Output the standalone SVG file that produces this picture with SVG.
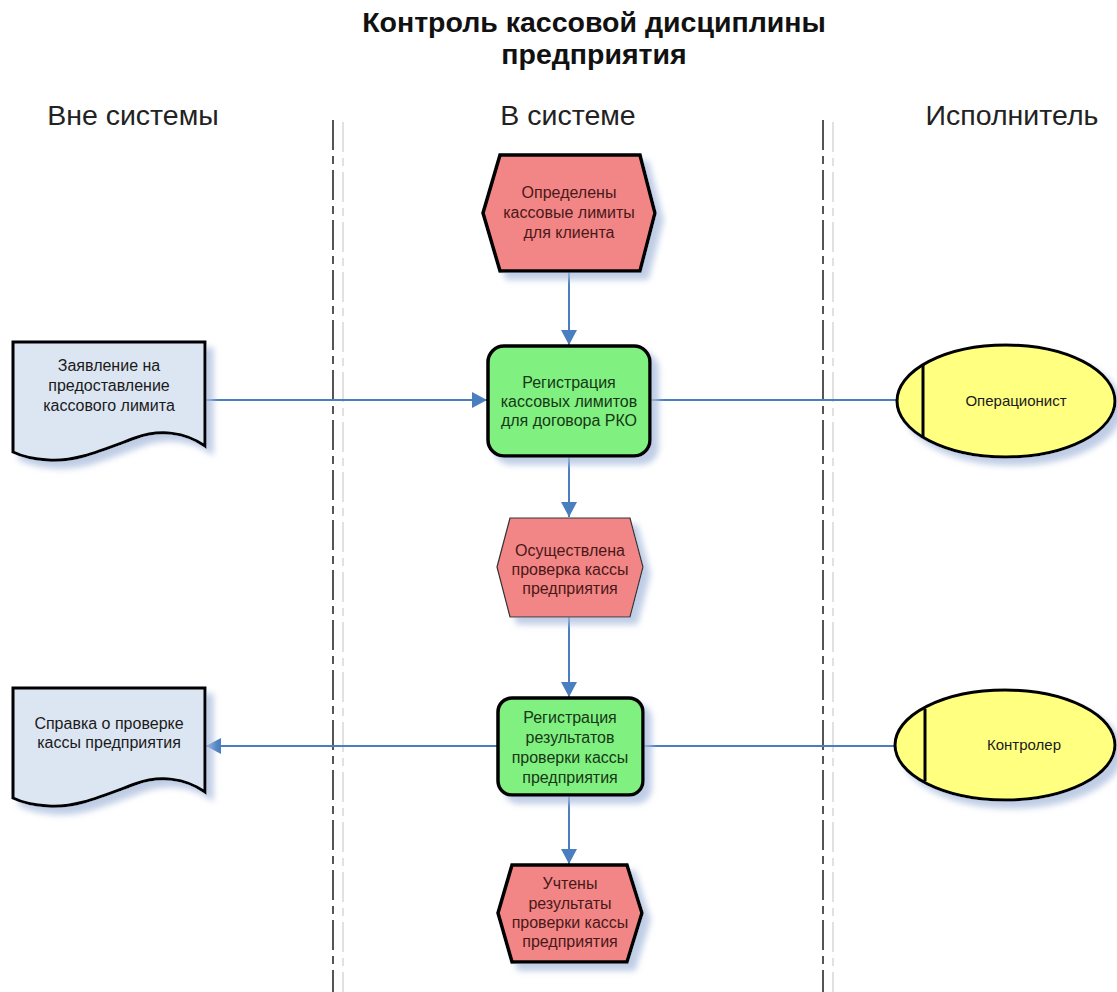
<svg xmlns="http://www.w3.org/2000/svg" width="1117" height="992" viewBox="0 0 1117 992">
<style>
.t{font-family:"Liberation Sans",Arial,sans-serif;fill:#1a1a1a;text-anchor:middle}
.title{font-size:28.5px;font-weight:bold;fill:#111}
.hdr{font-size:28.5px;fill:#222}
.n{font-size:16px}
.ev{fill:#F28585;stroke:#000;stroke-width:3.5;stroke-linejoin:miter}
.ev2{fill:#F28585;stroke:#333;stroke-width:1.2}
.fn{fill:#80F080;stroke:#000;stroke-width:3.5}
.doc{fill:#DCE6F2;stroke:#000;stroke-width:3}
.org{fill:#FFFF80;stroke:#000;stroke-width:3}
.c{fill:none;stroke:#4A7EBF;stroke-width:2}
.lane{stroke:#555;stroke-width:2;stroke-dasharray:30 6 8 6}
.lanesh{stroke:#D8D8D8;stroke-width:1.5;stroke-dasharray:30 6 8 6}
.er{fill:#4a1818}
.fg{fill:#163816}
</style>
<defs>
<filter id="sh" x="-20%" y="-20%" width="150%" height="150%">
<feDropShadow dx="7" dy="7" stdDeviation="3" flood-color="#A9BCDD" flood-opacity="0.75"/>
</filter>
<marker id="ar" markerUnits="userSpaceOnUse" markerWidth="16" markerHeight="16" refX="15" refY="8" orient="auto">
<path d="M0,0 L15,8 L0,16 Z" fill="#4A7EBF"/>
</marker>
</defs>
<rect width="1117" height="992" fill="#fff"/>
<g id="title">
<text class="t title" x="594" y="32">Контроль кассовой дисциплины</text>
<text class="t title" x="594" y="64">предприятия</text>
</g>
<g id="lanes">
<line class="lanesh" x1="343" y1="122" x2="343" y2="992"/>
<line class="lanesh" x1="833" y1="122" x2="833" y2="992"/>
<line class="lane" x1="333" y1="120" x2="333" y2="992"/>
<line class="lane" x1="823" y1="120" x2="823" y2="992"/>
<text class="t hdr" x="133" y="125">Вне системы</text>
<text class="t hdr" x="568" y="125">В системе</text>
<text class="t hdr" x="1012" y="125">Исполнитель</text>
</g>
<g id="connectors">
<line class="c" x1="569" y1="272" x2="569" y2="345" marker-end="url(#ar)"/>
<line class="c" x1="205" y1="400" x2="487" y2="400" marker-end="url(#ar)"/>
<line class="c" x1="650" y1="400" x2="897" y2="400"/>
<line class="c" x1="569" y1="456" x2="569" y2="517" marker-end="url(#ar)"/>
<line class="c" x1="569" y1="617" x2="569" y2="697" marker-end="url(#ar)"/>
<line class="c" x1="498" y1="746" x2="206" y2="746" marker-end="url(#ar)"/>
<line class="c" x1="643" y1="746" x2="896" y2="746"/>
<line class="c" x1="569" y1="795" x2="569" y2="864" marker-end="url(#ar)"/>
</g>
<g id="event1">
<polygon class="ev" filter="url(#sh)" points="483,213 500,155 640,155 655,213 640,271 500,271"/>
<text class="t n er" x="569" y="198">Определены</text>
<text class="t n er" x="569" y="218">кассовые лимиты</text>
<text class="t n er" x="569" y="238">для клиента</text>
</g>
<g id="func1">
<rect class="fn" filter="url(#sh)" x="488" y="346" width="162" height="110" rx="16"/>
<text class="t n fg" x="569" y="388">Регистрация</text>
<text class="t n fg" x="569" y="407">кассовых лимитов</text>
<text class="t n fg" x="569" y="426">для договора РКО</text>
</g>
<g id="event2">
<polygon class="ev2" filter="url(#sh)" points="497,567 510,518 630,518 643,567 630,617 510,617"/>
<text class="t n er" x="570" y="556">Осуществлена</text>
<text class="t n er" x="570" y="575">проверка кассы</text>
<text class="t n er" x="570" y="594">предприятия</text>
</g>
<g id="func2">
<rect class="fn" filter="url(#sh)" x="498" y="698" width="145" height="97" rx="14"/>
<text class="t n fg" x="570" y="723">Регистрация</text>
<text class="t n fg" x="570" y="743">результатов</text>
<text class="t n fg" x="570" y="763">проверки кассы</text>
<text class="t n fg" x="570" y="783">предприятия</text>
</g>
<g id="event3">
<polygon class="ev" filter="url(#sh)" points="498,913 512,865 627,865 642,913 627,962 512,962"/>
<text class="t n er" x="570" y="889">Учтены</text>
<text class="t n er" x="570" y="909">результаты</text>
<text class="t n er" x="570" y="928">проверки кассы</text>
<text class="t n er" x="570" y="947">предприятия</text>
</g>
<g id="doc1">
<path class="doc" filter="url(#sh)" d="M13,342 H205 V446 C185,432 160,429 135,438 C100,451 75,462 48,460 C32,459 21,456 13,452 Z"/>
<text class="t n" x="109" y="371">Заявление на</text>
<text class="t n" x="109" y="391">предоставление</text>
<text class="t n" x="109" y="411">кассового лимита</text>
</g>
<g id="doc2">
<path class="doc" filter="url(#sh)" d="M13,688 H205 V792 C185,778 160,775 135,784 C100,797 75,808 48,806 C32,805 21,802 13,798 Z"/>
<text class="t n" x="109" y="729">Справка о проверке</text>
<text class="t n" x="109" y="748">кассы предприятия</text>
</g>
<g id="org1">
<ellipse class="org" filter="url(#sh)" cx="1006" cy="401" rx="109" ry="56"/>
<line x1="923" y1="365" x2="923" y2="437" stroke="#000" stroke-width="3"/>
<text class="t" x="1016" y="406" style="font-size:15px">Операционист</text>
</g>
<g id="org2">
<ellipse class="org" filter="url(#sh)" cx="1005" cy="745" rx="110" ry="55"/>
<line x1="925" y1="709" x2="925" y2="781" stroke="#000" stroke-width="3"/>
<text class="t" x="1024" y="750" style="font-size:15px">Контролер</text>
</g>
</svg>
